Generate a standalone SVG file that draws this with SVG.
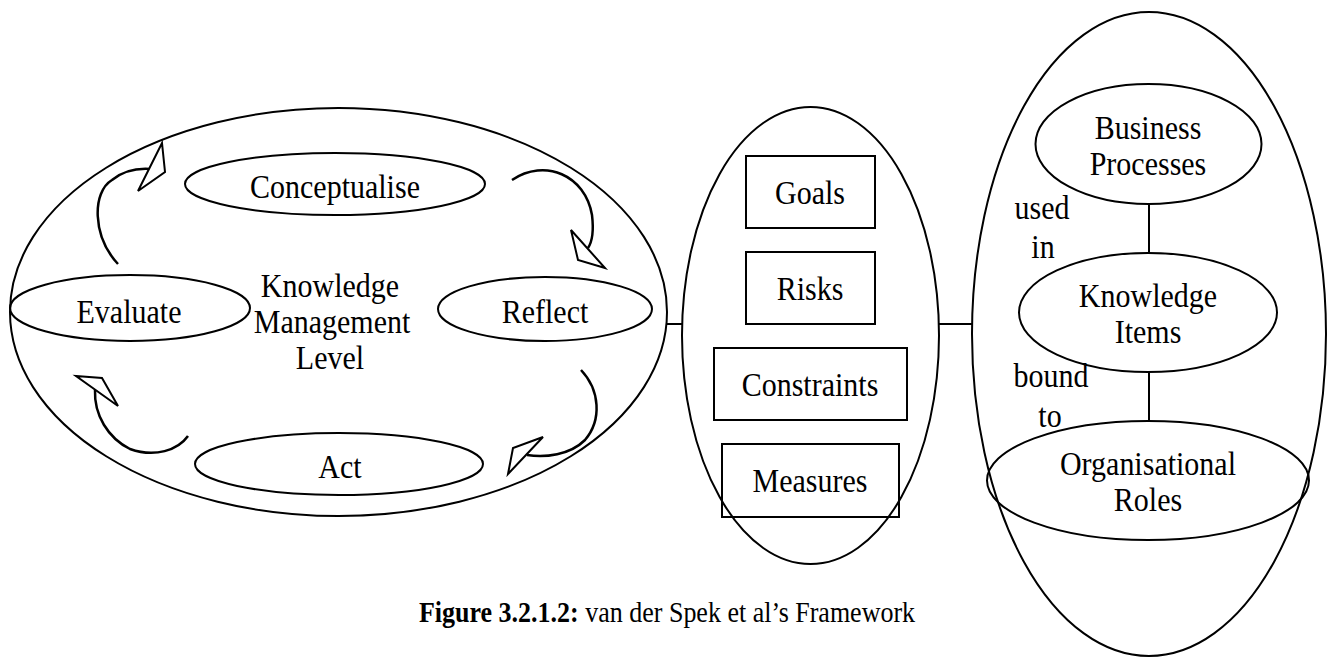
<svg xmlns="http://www.w3.org/2000/svg" width="1329" height="657" viewBox="0 0 1329 657">
  <style>
    .shape { fill: none; stroke: #000; stroke-width: 2; }
    .arc { fill: none; stroke: #000; stroke-width: 2.5; }
    .head { fill: #fff; stroke: #000; stroke-width: 2; stroke-linejoin: miter; }
    text { font-family: "Liberation Serif", "Times New Roman", serif; font-size: 30px; fill: #000; text-anchor: middle;
           transform-box: fill-box; transform-origin: center; transform: scaleY(1.12); }
    .caption { font-size: 26px; }
  </style>
  <rect width="1329" height="657" fill="#fff"/>

  <!-- Knowledge management level -->
  <g id="km-level">
    <ellipse class="shape" cx="338.5" cy="312" rx="328.5" ry="204"/>
    <text x="330" y="296">Knowledge</text>
    <text x="332" y="332">Management</text>
    <text x="330" y="368">Level</text>
  </g>

  <g id="conceptualise">
    <ellipse class="shape" cx="335" cy="184" rx="150" ry="31"/>
    <text x="335" y="197">Conceptualise</text>
  </g>

  <g id="evaluate">
    <ellipse class="shape" cx="130" cy="308" rx="120" ry="33"/>
    <text x="129" y="322">Evaluate</text>
  </g>

  <g id="reflect">
    <ellipse class="shape" cx="545" cy="309" rx="107" ry="32"/>
    <text x="545" y="322">Reflect</text>
  </g>

  <g id="act">
    <ellipse class="shape" cx="339" cy="464" rx="144" ry="31"/>
    <text x="340" y="477">Act</text>
  </g>

  <!-- cycle arrows -->
  <g id="cycle-arrows">
    <path class="arc" d="M118,264 C92,236 92,192 112,180 C122,172 134,168 150,169"/>
    <polygon class="head" points="162,143 165,172 138,191"/>
    <path class="arc" d="M512,180 C545,158 585,175 592,215 C594,232 592,242 588,248"/>
    <polygon class="head" points="571,230 605,268 578,260"/>
    <path class="arc" d="M581,370 C600,390 602,420 585,440 C570,455 545,458 527,455"/>
    <polygon class="head" points="543,437 508,474 513,448"/>
    <path class="arc" d="M95,390 C94,415 108,438 130,449 C155,458 178,450 188,436"/>
    <polygon class="head" points="76,376 102,378 118,406"/>
  </g>

  <!-- goals / risks / constraints / measures -->
  <g id="targets">
    <ellipse class="shape" cx="810.5" cy="335.5" rx="128.5" ry="228.5"/>
  </g>
  <g id="goals">
    <rect class="shape" x="746" y="156" width="129" height="72"/>
    <text x="810" y="203">Goals</text>
  </g>
  <g id="risks">
    <rect class="shape" x="746" y="252" width="129" height="72"/>
    <text x="810" y="299">Risks</text>
  </g>
  <g id="constraints">
    <rect class="shape" x="714" y="348" width="193" height="72"/>
    <text x="810" y="395">Constraints</text>
  </g>
  <g id="measures">
    <rect class="shape" x="722" y="444" width="177" height="73"/>
    <text x="810" y="491">Measures</text>
  </g>

  <!-- organisation -->
  <g id="organisation">
    <ellipse class="shape" cx="1149" cy="334" rx="177" ry="322"/>
  </g>
  <g id="business-processes">
    <ellipse class="shape" cx="1148.5" cy="144" rx="113" ry="60"/>
    <text x="1148" y="138">Business</text>
    <text x="1148" y="174">Processes</text>
  </g>
  <g id="knowledge-items">
    <ellipse class="shape" cx="1148" cy="312.5" rx="129" ry="59.5"/>
    <text x="1148" y="306">Knowledge</text>
    <text x="1148" y="342">Items</text>
  </g>
  <g id="organisational-roles">
    <ellipse class="shape" cx="1148" cy="480.5" rx="161" ry="59.5"/>
    <text x="1148" y="474">Organisational</text>
    <text x="1148" y="510">Roles</text>
  </g>

  <!-- connectors -->
  <g id="connectors">
    <line class="shape" x1="667" y1="324" x2="682" y2="324"/>
    <line class="shape" x1="939" y1="324" x2="972" y2="324"/>
    <line class="shape" x1="1149" y1="204" x2="1149" y2="253"/>
    <line class="shape" x1="1149" y1="372" x2="1149" y2="421"/>
    <text x="1042" y="218">used</text>
    <text x="1043" y="257">in</text>
    <text x="1051" y="386">bound</text>
    <text x="1050" y="426">to</text>
  </g>

  <text class="caption" x="667" y="621"><tspan font-weight="bold">Figure 3.2.1.2:</tspan> van der Spek et al’s Framework</text>
</svg>
